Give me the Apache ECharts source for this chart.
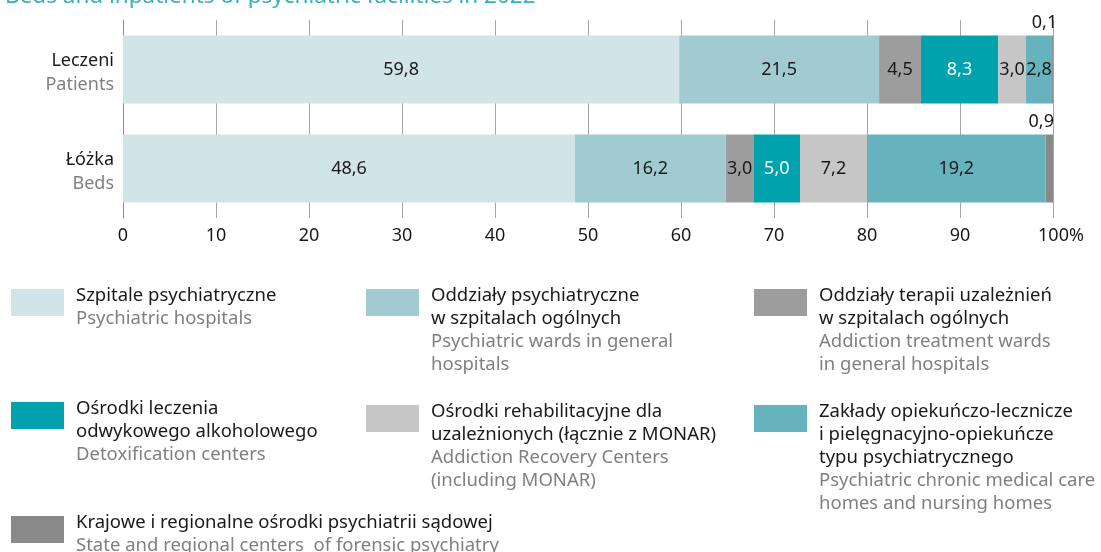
<!DOCTYPE html>
<html>
<head>
<meta charset="utf-8">
<script src="https://cdn.jsdelivr.net/npm/echarts@6/dist/echarts.min.js"></script>
<style>
  html, body { margin: 0; padding: 0; background: #fff; }
  #chart { width: 1101px; height: 552px; }
</style>
</head>
<body>
<div id="chart"></div>
<script>
// kategorie (wiersze)
const catPl = ["Leczeni", "Łóżka"];
const catEn = ["Patients", "Beds"];

// typy placówek
const typePl = [
  "Szpitale psychiatryczne",
  "Oddziały psychiatryczne\nw szpitalach ogólnych",
  "Oddziały terapii uzależnień\nw szpitalach ogólnych",
  "Ośrodki leczenia\nodwykowego alkoholowego",
  "Ośrodki rehabilitacyjne dla\nuzależnionych (łącznie z MONAR)",
  "Zakłady opiekuńczo-lecznicze\ni pielęgnacyjno-opiekuńcze\ntypu psychiatrycznego",
  "Krajowe i regionalne ośrodki psychiatrii sądowej"
];
const typeEn = [
  "Psychiatric hospitals",
  "Psychiatric wards in general\nhospitals",
  "Addiction treatment wards\nin general hospitals",
  "Detoxification centers",
  "Addiction Recovery Centers\n(including MONAR)",
  "Psychiatric chronic medical care\nhomes and nursing homes",
  "State and regional centers  of forensic psychiatry"
];

// udział w % [Leczeni, Łóżka]
const szpitale = [59.8, 48.6];
const oddzPsych = [21.5, 16.2];
const oddzTerapii = [4.5, 3.0];
const osrLeczenia = [8.3, 5.0];
const osrRehab = [3.0, 7.2];
const zaklady = [2.8, 19.2];
const sadowe = [0.1, 0.9];

const xTicks = [0, 10, 20, 30, 40, 50, 60, 70, 80, 90, 100];

const colors = ["#d1e4e8", "#a2cbd1", "#9d9d9d", "#00a3ad", "#c6c6c6", "#67b3bd", "#898989"];
const values = [szpitale, oddzPsych, oddzTerapii, osrLeczenia, osrRehab, zaklady, sadowe];

const font = "Noto Sans";
const fmt = v => v.toFixed(1).replace(".", ",");

const chart = echarts.init(document.getElementById("chart"));

const series = values.map((data, i) => {
  const last = i === values.length - 1;
  return {
    name: typePl[i].replace("\n", " "),
    type: "bar",
    stack: "total",
    barWidth: 68,
    data: data,
    itemStyle: { color: colors[i] },
    label: {
      show: true,
      position: last ? "top" : "inside",
      distance: last ? 4 : 0,
      offset: last ? [-8, 0] : [0, 0],
      formatter: p => fmt(p.value),
      color: i === 3 ? "#fff" : "#1a1a1a",
      fontFamily: font,
      fontSize: 18
    }
  };
});

// legenda rysowana ręcznie (wielowierszowe opisy)
const legendPos = [
  [11, 289], [366, 289], [754, 289],
  [11, 402], [366, 405], [754, 405],
  [11, 516]
];
const legendItems = [];
typePl.forEach((name, i) => {
  const [x, y] = legendPos[i];
  legendItems.push({
    type: "rect",
    shape: { x: x, y: y, width: 53, height: 27 },
    style: { fill: colors[i] }
  });
  legendItems.push({
    type: "text",
    x: x + 65,
    y: y - 5,
    style: {
      text: "{a|" + name.split("\n").join("}\n{a|") + "}\n{b|" + typeEn[i].split("\n").join("}\n{b|") + "}",
      rich: {
        a: { fontFamily: font, fontSize: 18.5, fill: "#1a1a1a", lineHeight: 23 },
        b: { fontFamily: font, fontSize: 18.5, fill: "#808080", lineHeight: 23 }
      }
    }
  });
});

chart.setOption({
  animation: false,
  title: {
    text: "Beds and inpatients of psychiatric facilities in 2022",
    left: 0,
    top: -20,
    textStyle: { fontFamily: font, fontSize: 22.5, fontWeight: "normal", color: "#3aaebf" }
  },
  grid: { left: 123, right: 48, top: 20, bottom: 334 },
  xAxis: {
    type: "value",
    min: xTicks[0],
    max: xTicks[xTicks.length - 1],
    interval: 10,
    axisLine: { show: false },
    axisTick: { show: false },
    splitLine: { show: true, lineStyle: { color: "#a6a6a6", width: 1 } },
    axisLabel: {
      margin: 9,
      fontFamily: font,
      fontSize: 18,
      color: "#1a1a1a",
      formatter: v => (v === 100 ? "{n|100%}" : String(v)),
      rich: {
        n: { fontFamily: font, fontSize: 18, color: "#1a1a1a", padding: [0, 0, 0, 16] }
      }
    }
  },
  yAxis: {
    type: "category",
    inverse: true,
    data: catPl,
    axisLine: { show: true, lineStyle: { color: "#8a8a8a" } },
    axisTick: { show: false },
    axisLabel: {
      margin: 9,
      align: "right",
      padding: [6, 0, 0, 0],
      formatter: (v, idx) => "{a|" + v + "}\n{b|" + catEn[idx] + "}",
      rich: {
        a: { fontFamily: font, fontSize: 18, color: "#1a1a1a", lineHeight: 24, align: "right" },
        b: { fontFamily: font, fontSize: 18, color: "#808080", lineHeight: 24, align: "right" }
      }
    }
  },
  series: series,
  graphic: legendItems
});
</script>
</body>
</html>
